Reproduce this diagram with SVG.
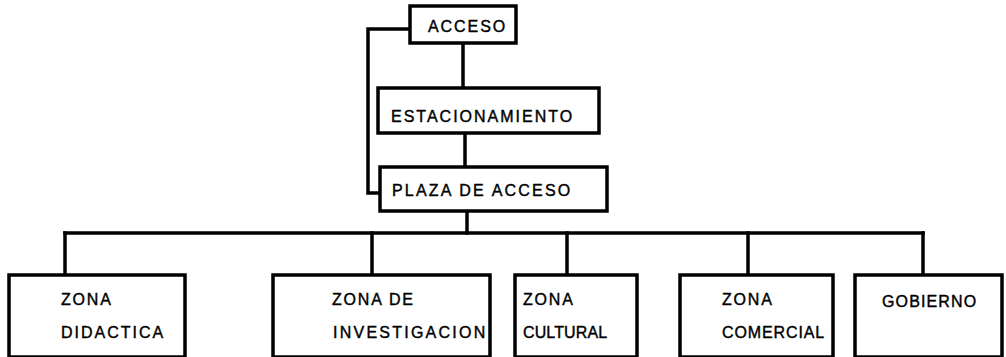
<svg xmlns="http://www.w3.org/2000/svg" width="1006" height="357" viewBox="0 0 1006 357">
<style>
.box{fill:#fff;stroke:#000;stroke-width:3.5}
.ln{fill:none;stroke:#000;stroke-width:3.5;stroke-linecap:square}
text{font-family:"Liberation Sans",Arial,sans-serif;font-size:16px;fill:#000;stroke:#000;stroke-width:0.4;letter-spacing:1.8px}
</style>
<rect width="1006" height="357" fill="#fff"/>
<g id="connectors">
<path class="ln" d="M410 29 H368 V193 H380"/>
<path class="ln" d="M463 43 V88"/>
<path class="ln" d="M465 133 V167"/>
<path class="ln" d="M467 211 V233"/>
<path class="ln" d="M65 233 H923"/>
<path class="ln" d="M65 233 V275"/>
<path class="ln" d="M372 233 V275"/>
<path class="ln" d="M567 233 V275"/>
<path class="ln" d="M748 233 V275"/>
<path class="ln" d="M923 233 V275"/>
</g>
<g id="acceso"><rect class="box" x="410" y="6" width="106" height="37"/><text x="428" y="32" textLength="79">ACCESO</text></g>
<g id="estacionamiento"><rect class="box" x="378" y="88" width="221" height="45"/><text x="391" y="122" textLength="183">ESTACIONAMIENTO</text></g>
<g id="plaza"><rect class="box" x="380" y="167" width="227" height="44"/><text x="392" y="196" textLength="180">PLAZA DE ACCESO</text></g>
<g id="didactica"><rect class="box" x="9" y="275" width="176" height="82"/><text x="61" y="305">ZONA</text><text x="61" y="338" textLength="104">DIDACTICA</text></g>
<g id="investigacion"><rect class="box" x="273" y="275" width="217" height="82"/><text x="332" y="305">ZONA DE</text><text x="333" y="338" textLength="154">INVESTIGACION</text></g>
<g id="cultural"><rect class="box" x="515" y="275" width="122" height="82"/><text x="523" y="305">ZONA</text><text x="523" y="338" textLength="86">CULTURAL</text></g>
<g id="comercial"><rect class="box" x="680" y="275" width="153" height="82"/><text x="722" y="305">ZONA</text><text x="722" y="338" textLength="104">COMERCIAL</text></g>
<g id="gobierno"><rect class="box" x="855" y="275" width="147" height="82"/><text x="882" y="307" textLength="96">GOBIERNO</text></g>
</svg>
